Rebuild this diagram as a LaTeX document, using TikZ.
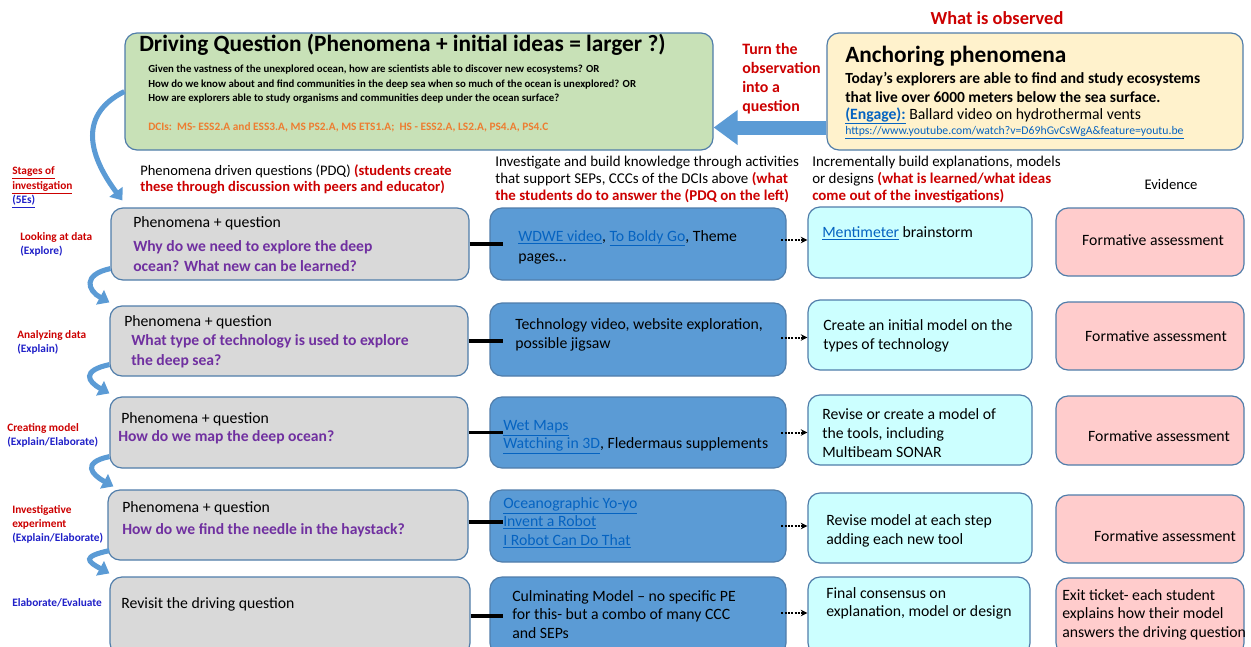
\documentclass[tikz,border=0pt]{standalone}
\usepackage{fontspec}
\setmainfont{Carlito}
\usetikzlibrary{positioning,fit,arrows.meta}
\definecolor{bord}{RGB}{80,125,170}
\definecolor{grayf}{RGB}{217,217,217}
\definecolor{bluef}{RGB}{91,155,213}
\definecolor{cyanf}{RGB}{204,255,255}
\definecolor{pinkf}{RGB}{255,204,204}
\definecolor{greenf}{RGB}{200,225,183}
\definecolor{yellf}{RGB}{255,242,204}
\definecolor{rd}{RGB}{204,0,0}
\definecolor{purp}{RGB}{112,48,160}
\definecolor{lnk}{RGB}{5,99,193}
\definecolor{lblue}{RGB}{32,32,200}
\definecolor{orng}{RGB}{237,125,49}
\definecolor{arrb}{RGB}{91,155,213}

\newcommand{\fpq}{Phenomena + question}
\newcommand{\flink}[1]{\textcolor{lnk}{\underline{#1}}}

\begin{document}
\begin{tikzpicture}[x=0.75pt, y=-0.75pt,
	bx/.style={draw=bord, line width=0.9pt, rounded corners=9pt, inner sep=0pt},
	qb/.style={bx, fill=grayf}, ab/.style={bx, fill=bluef},
	cb/.style={bx, fill=cyanf}, eb/.style={bx, fill=pinkf},
	tx/.style={anchor=north west, inner sep=0pt, align=left, font=\fontsize{11.8}{14.5}\selectfont},
	pq/.style={tx, text=purp, font=\fontsize{11.7}{15}\selectfont\bfseries},
	hd/.style={tx, font=\fontsize{11.2}{12.75}\selectfont},
	lb/.style={tx, text=rd, font=\fontsize{8.5}{10.8}\selectfont\bfseries},
	ev/.style={font=\fontsize{11.8}{14}\selectfont},
	cv/.style={draw=arrb, line width=3.8pt, -{Triangle[width=12pt,length=8pt]}},
	cn/.style={line width=2.3pt, shorten >=-10pt},
	dt/.style={densely dotted, line width=1.5pt, shorten <=-4pt, -{Stealth[length=5pt,width=5pt]}}]
	\useasboundingbox (0,0) rectangle (1251,646);

	\node[bx, fill=greenf, fit={(125,33) (713,150)}] (dq) {};
	\node[bx, fill=yellf, fit={(827,33) (1243,150)}] (ap) {};
	\node[tx, anchor=west, font=\fontsize{17.5}{20}\selectfont\bfseries] (dqt) at (139,45) {Driving Question (Phenomena + initial ideas = larger ?)};
	\node[tx, font=\fontsize{8.1}{10.9}\selectfont\bfseries] (dqb) at (148,65) {Given the vastness of the unexplored ocean, how are scientists able to discover new ecosystems? OR\\How do we know about and find communities in the deep sea when so much of the ocean is unexplored? OR\\How are explorers able to study organisms and communities deep under the ocean surface?};
	\node[tx, anchor=west, text=orng, font=\fontsize{8.5}{10}\selectfont\bfseries] (dci) at (148,127) {DCIs:\ \ MS- ESS2.A and ESS3.A, MS PS2.A, MS ETS1.A;\ \ HS - ESS2.A, LS2.A, PS4.A, PS4.C};

	\node[tx, anchor=west, font=\fontsize{17.5}{20}\selectfont\bfseries] (apt) at (845,56) {Anchoring phenomena};
	\node[tx, font=\fontsize{11.6}{14.25}\selectfont\bfseries] (apb) at (845,72) {Today’s explorers are able to find and study ecosystems\\that live over 6000 meters below the sea surface.};
	\node[tx, anchor=west, font=\fontsize{11.8}{13}\selectfont] (ape) at (845,116) {\textcolor{lnk}{\bfseries\underline{(Engage):}} Ballard video on hydrothermal vents};
	\node[tx, anchor=west, font=\fontsize{8.8}{10}\selectfont] (apu) at (845,133) {\flink{https://www.youtube.com/watch?v=D69hGvCsWgA\&feature=youtu.be}};
	\node[text=rd, font=\fontsize{13.8}{16}\selectfont\bfseries] (obs) at (997,18) {What is observed};
	\node[tx, text=rd, font=\fontsize{11.9}{14.3}\selectfont\bfseries] (turn) at (742,43) {Turn the\\observation\\into a\\question};
	\draw[draw=arrb, line width=10.5pt, -{Triangle[width=25pt,length=18pt]}] ([shift={(0,36)}]ap.west) -- ([shift={(0,36)}]ap.west -| dq.east);

	\node[hd, font=\fontsize{10.9}{12}\selectfont] (h1) at (140,164.5) {Phenomena driven questions (PDQ) \textcolor{rd}{\bfseries(students create}\\\textcolor{rd}{\bfseries these through discussion with peers and educator)}};
	\node[hd] (h2) at (495,155.5) {Investigate and build knowledge through activities\\that support SEPs, CCCs of the DCIs above \textcolor{rd}{\bfseries(what}\\\textcolor{rd}{\bfseries the students do to answer the (PDQ on the left)}};
	\node[hd] (h3) at (812,155.5) {Incrementally build explanations, models\\or designs \textcolor{rd}{\bfseries(what is learned/what ideas}\\\textcolor{rd}{\bfseries come out of the investigations)}};
	\node[font=\fontsize{11}{12}\selectfont] (h4) at (1171,184) {Evidence};

	\node[lb] (s0) at (12,166.8) {\underline{Stages of}\\\underline{investigation}\\\textcolor{lblue}{\underline{(5Es)}}};
	\node[lb] (s1) at (20,231.8) {Looking at data\\\textcolor{lblue}{(Explore)}};
	\node[lb] (s2) at (17,329.8) {Analyzing data\\\textcolor{lblue}{(Explain)}};
	\node[lb] (s3) at (7,422.8) {Creating model\\\textcolor{lblue}{(Explain/Elaborate)}};
	\node[lb] (s4) at (12,504.8) {Investigative\\experiment\\\textcolor{lblue}{(Explain/Elaborate)}};
	\node[lb, text=lblue] (s5) at (12,597.8) {Elaborate/Evaluate};

	\node[qb, fit={(111,208) (469,280)}] (q1) {};
	\node[ab, fit={(490,208) (786,280)}] (a1) {};
	\node[cb, fit={(808,207) (1032,278)}] (c1) {};
	\node[eb, fit={(1056,208) (1244,276)}] (e1) {};
	\node[tx] (q1t) at (133,216) {\fpq};
	\node[pq] (q1q) at (133,240) {Why do we need to explore the deep\\ocean? What new can be learned?};
	\node[tx, font=\fontsize{11.8}{15}\selectfont] (a1t) at (518,230) {\flink{WDWE video}, \flink{To Boldy Go}, Theme\\pages…};
	\node[tx] (c1t) at (822,226) {\flink{Mentimeter} brainstorm};
	\node[ev] (e1t) at (1153,240) {Formative assessment};

	\node[qb, fit={(110,306) (468,376)}] (q2) {};
	\node[ab, fit={(490,303) (786,376)}] (a2) {};
	\node[cb, fit={(808,300) (1032,370)}] (c2) {};
	\node[eb, fit={(1056,302) (1244,370)}] (e2) {};
	\node[tx] (q2t) at (124,315) {\fpq};
	\node[pq] (q2q) at (131,334) {What type of technology is used to explore\\the deep sea?};
	\node[tx] (a2t) at (515,318) {Technology video, website exploration,\\possible jigsaw};
	\node[tx] (c2t) at (823,319) {Create an initial model on the\\types of technology};
	\node[ev] (e2t) at (1156,336) {Formative assessment};

	\node[qb, fit={(110,397) (468,468)}] (q3) {};
	\node[ab, fit={(490,397) (786,468)}] (a3) {};
	\node[cb, fit={(808,395) (1032,465)}] (c3) {};
	\node[eb, fit={(1056,396) (1244,465)}] (e3) {};
	\node[tx] (q3t) at (121,412) {\fpq};
	\node[pq] (q3q) at (118,430) {How do we map the deep ocean?};
	\node[tx, font=\fontsize{11.8}{13.8}\selectfont] (a3t) at (503,420) {\flink{Wet Maps}\\\flink{Watching in 3D}, Fledermaus supplements};
	\node[tx] (c3t) at (822,408) {Revise or create a model of\\the tools, including\\Multibeam SONAR};
	\node[ev] (e3t) at (1159,436) {Formative assessment};

	\node[qb, fit={(108,490) (468,560)}] (q4) {};
	\node[ab, fit={(490,490) (786,562)}] (a4) {};
	\node[cb, fit={(808,493) (1032,563)}] (c4) {};
	\node[eb, fit={(1056,495) (1244,563)}] (e4) {};
	\node[tx] (q4t) at (122,501) {\fpq};
	\node[pq] (q4q) at (122,523) {How do we find the needle in the haystack?};
	\node[tx, font=\fontsize{11.8}{13.8}\selectfont] (a4t) at (503,497) {\flink{Oceanographic Yo-yo}\\\flink{Invent a Robot}\\\flink{I Robot Can Do That}};
	\node[tx] (c4t) at (826,514) {Revise model at each step\\adding each new tool};
	\node[ev] (e4t) at (1165,536) {Formative assessment};

	\node[qb, fit={(110,577) (470,655)}] (q5) {};
	\node[ab, fit={(490,577) (786,655)}] (a5) {};
	\node[cb, fit={(808,577) (1030,655)}] (c5) {};
	\node[eb, fit={(1056,578) (1244,655)}] (e5) {};
	\node[tx] (q5t) at (121,597) {Revisit the driving question};
	\node[tx, font=\fontsize{11.8}{13.9}\selectfont] (a5t) at (512,590) {Culminating Model – no specific PE\\for this- but a combo of many CCC\\and SEPs};
	\node[tx, font=\fontsize{11.8}{13.9}\selectfont] (c5t) at (826,587) {Final consensus on\\explanation, model or design};
	\node[tx, font=\fontsize{11.8}{13.9}\selectfont] (e5t) at (1062,589) {Exit ticket- each student\\explains how their model\\answers the driving question};

	\draw[cv] (dq.west) .. controls +(-50,25) and +(-30,-40) .. ([shift={(12,-7)}]q1.north west);
	\draw[cv] ([shift={(0,-12)}]q1.south west) .. controls +(-28,6) and +(-22,-12) .. ([shift={(0,-3)}]q2.north west);
	\draw[cv] ([shift={(0,-12)}]q2.south west) .. controls +(-28,6) and +(-22,-12) .. ([shift={(0,-3)}]q3.north west);
	\draw[cv] ([shift={(0,-12)}]q3.south west) .. controls +(-28,6) and +(-22,-12) .. ([shift={(6,-3)}]q4.north west);
	\draw[cv] ([shift={(2,-10)}]q4.south west) .. controls +(-28,6) and +(-22,-12) .. ([shift={(0,-3)}]q5.north west);

	\draw[cn] (q1.east) -- (a1.west);
	\draw[cn] (q2.east) -- (q2.east -| a2.west);
	\draw[cn] (q3.east) -- (a3.west);
	\draw[cn] ([shift={(0,-3)}]q4.east) -- ([shift={(0,-3)}]q4.east -| a4.west);
	\draw[cn] (q5.east) -- (a5.west);

	\draw[dt] ([shift={(0,-4)}]a1.east) -- ([shift={(0,-4)}]a1.east -| c1.west);
	\draw[dt] ([shift={(0,-2)}]a2.east) -- ([shift={(0,-2)}]a2.east -| c2.west);
	\draw[dt] (a3.east) -- (a3.east -| c3.west);
	\draw[dt] (a4.east) -- (a4.east -| c4.west);
	\draw[dt] ([shift={(0,-3)}]a5.east) -- ([shift={(0,-3)}]a5.east -| c5.west);
\end{tikzpicture}
\end{document}
